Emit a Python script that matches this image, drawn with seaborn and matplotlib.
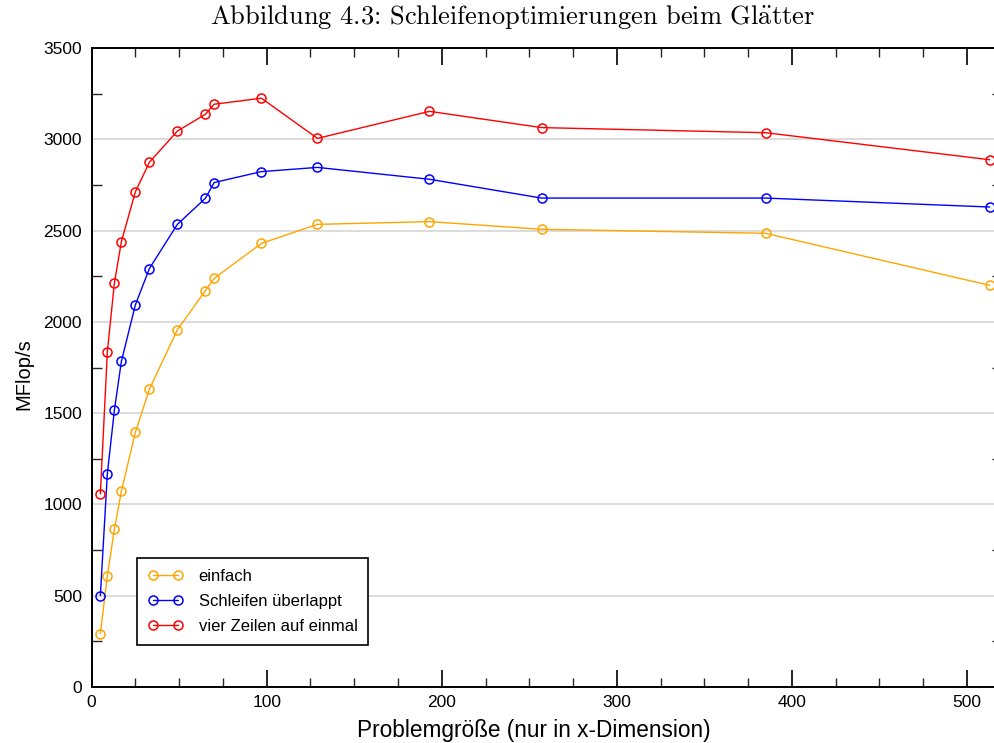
import matplotlib
matplotlib.use("Agg")
import matplotlib.pyplot as plt
from matplotlib.ticker import MultipleLocator
import pandas as pd
import seaborn as sns

# Problem sizes (x dimension) and measured MFlop/s per variant
sizes = [5, 9, 13, 17, 25, 33, 49, 65, 70, 97, 129, 193, 257, 385, 513]
einfach = [293, 610, 864, 1072, 1395, 1631, 1957, 2171, 2238, 2430, 2534, 2549, 2507, 2485, 2200]
ueberlappt = [501, 1169, 1515, 1783, 2093, 2292, 2534, 2677, 2763, 2823, 2846, 2781, 2678, 2678, 2629]
vier_zeilen = [1058, 1836, 2211, 2439, 2712, 2874, 3045, 3137, 3192, 3225, 3005, 3153, 3064, 3036, 2888]

series_names = ["einfach", "Schleifen überlappt", "vier Zeilen auf einmal"]
series_values = [einfach, ueberlappt, vier_zeilen]
series_colors = ["#FFA500", "#0000FF", "#FF0000"]

y_ticks = [0, 500, 1000, 1500, 2000, 2500, 3000, 3500]
x_ticks = [0, 100, 200, 300, 400, 500]

sns.set_style("white")
plt.rcParams["font.family"] = ["Liberation Sans", "DejaVu Sans"]
plt.rcParams["text.color"] = "black"
plt.rcParams["axes.labelcolor"] = "black"
plt.rcParams["mathtext.fontset"] = "cm"

W, H = 994, 743
fig = plt.figure(figsize=(W / 100, H / 100), dpi=100)

# axes frame in pixel terms: left 91.6, right 1002, top 48, bottom 687
left_px, right_px, top_px, bottom_px = 91.6, 1002.0, 48.0, 687.0
ax = fig.add_axes([left_px / W, 1 - bottom_px / H,
                   (right_px - left_px) / W, (bottom_px - top_px) / H])

frames = []
for name, vals in zip(series_names, series_values):
    frames.append(pd.DataFrame({"size": sizes, "mflops": vals, "variant": name}))
data = pd.concat(frames, ignore_index=True)

for name, color in zip(series_names, series_colors):
    sub = data[data["variant"] == name]
    sns.lineplot(data=sub, x="size", y="mflops", ax=ax, color=color,
                 linewidth=1.0, marker="o", markersize=6.5,
                 markerfacecolor="none", markeredgecolor=color,
                 markeredgewidth=1.1, label=name, sort=False, zorder=3)

ax.set_xlim(0, 520)
ax.set_ylim(0, 3500)
ax.set_xticks(x_ticks)
ax.set_yticks(y_ticks)
ax.set_xticklabels([str(t) for t in x_ticks])
ax.set_yticklabels([str(t) for t in y_ticks])
ax.xaxis.set_minor_locator(MultipleLocator(25))
ax.yaxis.set_minor_locator(MultipleLocator(250))

ax.grid(False)
ax.yaxis.grid(True, which="major", color="#dcdcdc", linewidth=1.4, zorder=0)
ax.set_axisbelow(True)

for side in ["left", "right", "top", "bottom"]:
    ax.spines[side].set_visible(True)
    ax.spines[side].set_color("black")
    ax.spines[side].set_linewidth(1.4)

ax.tick_params(axis="x", which="major", direction="in", length=12, width=1.2,
               top=True, bottom=True, labelsize=12.5, pad=6, colors="black")
ax.tick_params(axis="x", which="minor", direction="in", length=6.5, width=1.0,
               top=True, bottom=True)
ax.tick_params(axis="y", which="major", direction="in", length=0, left=True,
               right=True, labelsize=12.5, pad=7, colors="black")
ax.tick_params(axis="y", which="minor", direction="in", length=7, width=1.0,
               left=True, right=True)

ax.set_xlabel("")
ax.set_ylabel("")
fig.text(534 / W, 1 - 731 / H, "Problemgröße (nur in x-Dimension)",
         ha="center", va="center", fontsize=16.3)
fig.text(24 / W, 1 - 374 / H, "MFlop/s", ha="center", va="center",
         rotation=90, fontsize=14.5)

fig.text(512 / W, 1 - 17 / H,
         r"Abbildung 4.3: Schleifenoptimierungen beim Gl$\ddot{\mathrm{a}}$tter",
         ha="center", va="center", fontsize=19,
         family=["cmr10", "DejaVu Serif"])

leg = ax.legend(loc="lower left", bbox_to_anchor=((137 - left_px) / (right_px - left_px),
                                                 (bottom_px - 645) / (bottom_px - top_px)),
                borderaxespad=0, numpoints=2, fontsize=12, frameon=True,
                fancybox=False, edgecolor="black", framealpha=1,
                handlelength=2.1, handletextpad=0.95, labelspacing=0.6,
                borderpad=0.65)
leg.get_frame().set_linewidth(1.2)

fig.savefig("out.png", dpi=100)
